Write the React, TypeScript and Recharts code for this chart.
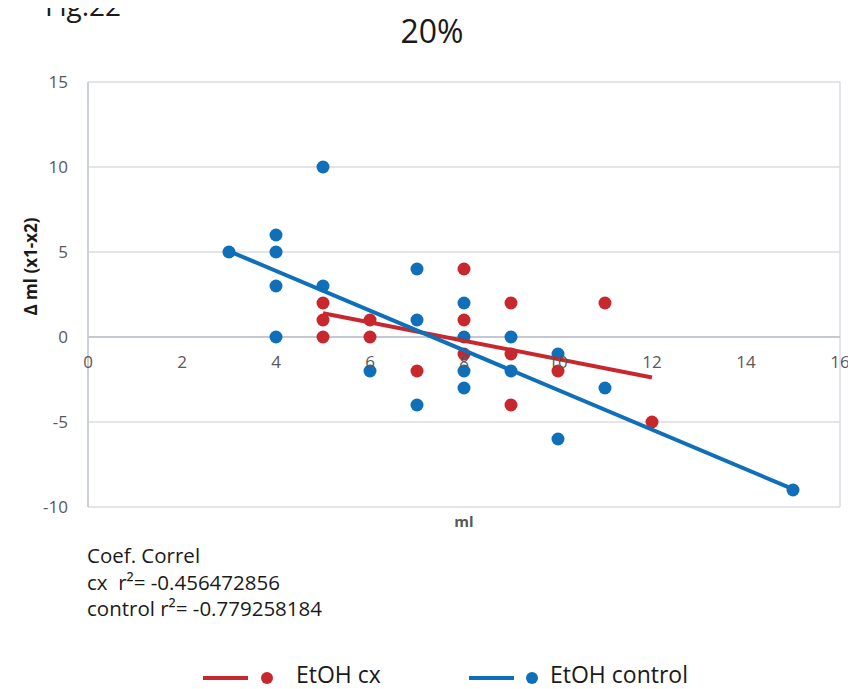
import React from 'react';
import {
  ScatterChart,
  Scatter,
  XAxis,
  YAxis,
  CartesianGrid,
  ReferenceLine,
  ReferenceDot,
  Legend,
} from 'recharts';

// ---- data ----
const cxX = [5, 5, 5, 6, 6, 7, 8, 8, 8, 9, 9, 9, 10, 11, 12];
const cxY = [2, 1, 0, 1, 0, -2, 4, 1, -1, 2, -1, -4, -2, 2, -5];

const controlX = [3, 4, 4, 4, 4, 5, 5, 6, 7, 7, 7, 8, 8, 8, 8, 9, 9, 10, 10, 11, 15];
const controlY = [5, 6, 5, 3, 0, 10, 3, -2, 4, 1, -4, 2, 0, -2, -3, 0, -2, -1, -6, -3, -9];

// trendline endpoints as drawn in the reference
const cxTrendX = [5, 12];
const cxTrendY = [1.4, -2.38];
const controlTrendX = [3, 15];
const controlTrendY = [5.05, -8.95];

const xTicks = [0, 2, 4, 6, 8, 10, 12, 14, 16];
const yTicks = [-10, -5, 0, 5, 10, 15];

const seriesNames = ['EtOH cx', 'EtOH control'];
const corrLines = ['Coef. Correl', 'cx  r\u00B2= -0.456472856', 'control r\u00B2= -0.779258184'];

const RED = '#c8272e';
const BLUE = '#0f6fb8';
const GRID = '#dadce3';
const TICK = '#595959';
const FONT = '"Open Sans", sans-serif';

const zip = (xs: number[], ys: number[]) => xs.map((x, i) => ({ x, y: ys[i] }));

const cxData = zip(cxX, cxY);
const controlData = zip(controlX, controlY);
const cxTrend = zip(cxTrendX, cxTrendY);
const controlTrend = zip(controlTrendX, controlTrendY);

const dot = (color: string) => (props: any) =>
  props.cx == null ? <g /> : <circle cx={props.cx} cy={props.cy} r={6.5} fill={color} />;

const noShape = () => <g />;

const YLabel = (props: any) => {
  const vb = props.viewBox || {};
  const cx = 30;
  const cy = vb.y + vb.height / 2 - 28;
  return (
    <text
      x={cx}
      y={cy}
      transform={`rotate(-90, ${cx}, ${cy})`}
      textAnchor="middle"
      dominantBaseline="central"
      fontFamily={FONT}
      fontWeight={700}
      fontSize={17}
      fill="#1a1a1a"
    >
      {'\u0394 ml (x1-x2)'}
    </text>
  );
};

const LegendContent = () => {
  const colors = [RED, BLUE];
  const lefts = [203, 469];
  const dotGap = [13, 12];
  const textGap = [23, 12];
  return (
    <div style={{ position: 'relative', width: 856, height: 31, fontFamily: FONT }}>
      {seriesNames.map((n, i) => (
        <div
          key={n}
          style={{
            position: 'absolute',
            left: lefts[i],
            top: 0,
            height: 31,
            display: 'flex',
            alignItems: 'center',
            whiteSpace: 'nowrap',
          }}
        >
          <span
            style={{
              display: 'inline-block',
              width: 45,
              height: 4,
              background: colors[i],
              position: 'relative',
              top: 4,
            }}
          />
          <span
            style={{
              display: 'inline-block',
              width: 12,
              height: 12,
              borderRadius: 6,
              background: colors[i],
              marginLeft: dotGap[i],
              position: 'relative',
              top: 4,
            }}
          />
          <span style={{ marginLeft: textGap[i], fontSize: 23, color: '#1a1a1a' }}>{n}</span>
        </div>
      ))}
    </div>
  );
};

export default function App() {
  return (
    <div style={{ position: 'relative', left: -8, top: -8, width: 856, height: 689, background: '#fff', overflow: 'hidden' }}>
      <div
        style={{
          position: 'absolute',
          left: 45,
          top: -14,
          fontFamily: FONT,
          fontSize: 28,
          color: '#1a1a1a',
        }}
      >
        Fig.22
      </div>
      <div
        style={{
          position: 'absolute',
          left: 0,
          width: 864,
          top: 9,
          textAlign: 'center',
          fontFamily: FONT,
          fontSize: 32,
          color: '#1a1a1a',
        }}
      >
        20%
      </div>
      <ScatterChart
        width={856}
        height={689}
        margin={{ top: 82, right: 16, bottom: 142, left: 0 }}
        style={{ position: 'absolute', left: 0, top: 0 }}
      >
        <CartesianGrid stroke={GRID} strokeWidth={1.5} />
        <XAxis
          type="number"
          dataKey="x"
          domain={[0, 16]}
          ticks={xTicks}
          tick={false}
          axisLine={false}
          tickLine={false}
          height={40}
          label={{
            value: 'ml',
            position: 'insideTop',
            offset: 9,
            fontFamily: FONT,
            fontWeight: 700,
            fontSize: 15,
            fill: TICK,
          }}
        />
        <YAxis
          type="number"
          dataKey="y"
          domain={[-10, 15]}
          ticks={yTicks}
          width={88}
          axisLine={{ stroke: '#c4c8d0', strokeWidth: 1.5 }}
          tickLine={false}
          tickSize={8}
          tickMargin={12}
          tick={{ fontFamily: FONT, fontSize: 17, fill: TICK }}
          label={<YLabel />}
        />
        <ReferenceLine y={0} stroke="#c4c8d0" strokeWidth={2} />
        {xTicks.map((t) => (
          <ReferenceDot
            key={t}
            x={t}
            y={0}
            r={0}
            fill="none"
            stroke="none"
            label={{
              value: String(t),
              position: 'bottom',
              offset: 19,
              fontFamily: FONT,
              fontSize: 17,
              fill: TICK,
            }}
          />
        ))}
        <Scatter name={seriesNames[0]} data={cxData} shape={dot(RED)} isAnimationActive={false} />
        <Scatter name={seriesNames[1]} data={controlData} shape={dot(BLUE)} isAnimationActive={false} />
        <Scatter
          data={cxTrend}
          line={{ stroke: RED, strokeWidth: 4 }}
          shape={noShape}
          legendType="none"
          isAnimationActive={false}
        />
        <Scatter
          data={controlTrend}
          line={{ stroke: BLUE, strokeWidth: 4 }}
          shape={noShape}
          legendType="none"
          isAnimationActive={false}
        />
        <Legend
          layout="horizontal"
          verticalAlign="middle"
          wrapperStyle={{ top: 658, left: 0, width: 856, height: 31 }}
          content={<LegendContent />}
        />
      </ScatterChart>
      <div
        style={{
          position: 'absolute',
          left: 87,
          top: 542,
          fontFamily: FONT,
          fontSize: 20.5,
          lineHeight: '26.5px',
          color: '#1a1a1a',
          whiteSpace: 'pre',
        }}
      >
        {corrLines.map((l) => (
          <div key={l}>{l}</div>
        ))}
      </div>
    </div>
  );
}
